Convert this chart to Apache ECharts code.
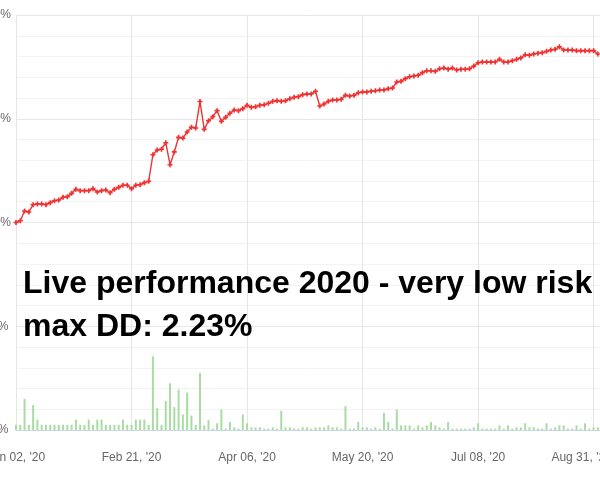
<!DOCTYPE html>
<html>
<head>
<meta charset="utf-8">
<script src="https://cdn.jsdelivr.net/npm/echarts@6/dist/echarts.min.js"></script>
<style>html,body{margin:0;padding:0;background:#fff}#c{width:600px;height:480px}</style>
</head>
<body>
<div id="c"></div>
<script>
const tickLabels = ["Jan 02, '20","Feb 21, '20","Apr 06, '20","May 20, '20","Jul 08, '20","Aug 31, '20"];
const tickStep = 27;
const growth = [
0.0,0.17,1.11,1.01,1.72,1.78,1.78,1.72,1.91,2.10,
2.17,2.43,2.49,2.81,3.20,3.07,3.07,3.07,3.26,2.94,
3.07,3.13,2.87,3.20,3.39,3.59,3.59,3.26,3.59,3.64,
3.84,3.97,6.53,6.99,7.06,7.69,5.57,6.80,8.21,8.14,
8.72,9.18,9.11,11.66,8.98,9.81,10.20,10.78,9.75,10.14,
10.53,10.84,10.78,10.97,11.30,11.10,11.16,11.30,11.35,11.49,
11.68,11.74,11.68,11.74,11.93,12.07,12.13,12.32,12.39,12.39,
12.65,11.23,11.42,11.68,11.81,11.81,11.87,12.26,12.19,12.26,
12.51,12.58,12.58,12.65,12.70,12.77,12.77,12.90,12.96,13.54,
13.61,13.86,14.05,14.12,14.19,14.44,14.63,14.63,14.57,14.82,
14.89,14.77,14.89,14.70,14.77,14.77,14.82,15.08,15.40,15.47,
15.47,15.47,15.47,15.73,15.47,15.47,15.60,15.73,15.86,16.17,
16.12,16.24,16.31,16.37,16.50,16.63,16.69,16.94,16.63,16.63,
16.63,16.56,16.56,16.56,16.56,16.56,16.24
];
const bars = [
0.5,0.5,3.0,0.5,2.4,1.0,0.5,0.5,0.5,0.5,
0.5,0.5,0.5,0.5,1.0,0.5,0.5,1.0,0.5,1.0,
1.0,0.5,0.5,0.5,0.5,1.0,0.5,0.5,1.0,1.0,
1.0,0.5,7.1,2.1,0.5,2.8,4.5,2.2,3.9,1.5,
3.6,1.4,0.5,5.5,0.45,0.95,0.13,0.65,2.0,0.13,
0.77,0.26,0.13,1.5,0.65,0.26,0.26,0.26,0.13,0.13,
0.26,0.13,1.85,0.26,0.26,0.13,0.13,0.26,0.26,0.13,
0.26,0.26,0.26,0.45,0.26,0.26,0.13,2.3,0.13,0.13,
0.77,0.26,0.26,0.13,0.26,0.13,1.65,0.77,0.13,2.0,
0.45,0.45,0.45,0.13,0.45,0.26,0.45,0.77,0.45,0.26,
0.13,0.77,0.13,0.13,0.13,0.13,0.13,0.26,0.65,0.13,
0.13,0.13,0.13,0.45,0.13,0.45,0.13,0.26,0.26,0.65,
0.26,0.26,0.13,0.13,0.65,0.13,0.26,0.45,0.45,0.13,
0.13,0.45,0.13,0.65,0.13,0.26,0.26
];
const titleLines = ["Live performance 2020 - very low risk", "max DD: 2.23%"];

const chart = echarts.init(document.getElementById('c'), null, {renderer: 'canvas'});
const plus = 'path://M2,0H4V2H6V4H4V6H2V4H0V2H2Z';
const lastIdx = tickLabels.length - 1;
chart.setOption({
  animation: false,
  grid: {left: 16, top: 15, height: 415, width: 599, containLabel: false, outerBoundsMode: 'none'},
  xAxis: {
    type: 'value', min: 0, max: 140, interval: tickStep,
    axisLine: {show: true, onZero: false, lineStyle: {color: '#ccd6eb'}},
    axisTick: {show: false},
    splitLine: {show: true, lineStyle: {color: '#e6e6e6'}},
    axisLabel: {
      color: '#666', fontSize: 12, fontFamily: 'Liberation Sans, Arial', margin: 22,
      showMinLabel: true, showMaxLabel: false, hideOverlap: false,
      rich: {last: {color: '#666', fontSize: 12, fontFamily: 'Liberation Sans, Arial', padding: [0, 24, 0, 0]}},
      formatter: v => {
        if (v % tickStep !== 0) return '';
        const k = v / tickStep;
        if (!tickLabels[k]) return '';
        return k === lastIdx ? '{last|' + tickLabels[k] + '}' : tickLabels[k];
      }
    }
  },
  yAxis: [{
    type: 'value', min: -20, max: 20, interval: 10,
    axisLine: {show: false}, axisTick: {show: false},
    splitLine: {show: true, lineStyle: {color: '#e6e6e6'}},
    minorTick: {show: false, splitNumber: 5},
    minorSplitLine: {show: true, lineStyle: {color: '#f3f3f3'}},
    axisLabel: {color: '#666', fontSize: 12, fontFamily: 'Liberation Sans, Arial', margin: 5,
      formatter: v => v >= 0 ? v + '%' : ''}
  }, {
    type: 'value', min: 0, max: 40, interval: 10, position: 'left',
    axisLine: {show: false}, axisTick: {show: false}, splitLine: {show: false},
    axisLabel: {color: '#666', fontSize: 12, fontFamily: 'Liberation Sans, Arial', margin: 7.5,
      formatter: v => (v === 0 || v === 10) ? v + '%' : ''}
  }],
  series: [{
    type: 'bar', yAxisIndex: 1, barWidth: 2,
    itemStyle: {color: '#a9dca3'},
    data: bars.map((v, i) => [i, v])
  }, {
    type: 'line', yAxisIndex: 0,
    symbol: plus, symbolSize: 5, showSymbol: true,
    lineStyle: {color: '#f03232', width: 1.4},
    itemStyle: {color: '#f03232'},
    data: growth.map((v, i) => [i, v]),
    z: 5
  }],
  graphic: [{
    type: 'text', left: 23, top: 268, z: 100,
    style: {text: titleLines[0], font: 'bold 32px "Liberation Sans", Arial', fill: '#000'}
  }, {
    type: 'text', left: 23, top: 311, z: 100,
    style: {text: titleLines[1], font: 'bold 32px "Liberation Sans", Arial', fill: '#000'}
  }]
});
</script>
</body>
</html>
